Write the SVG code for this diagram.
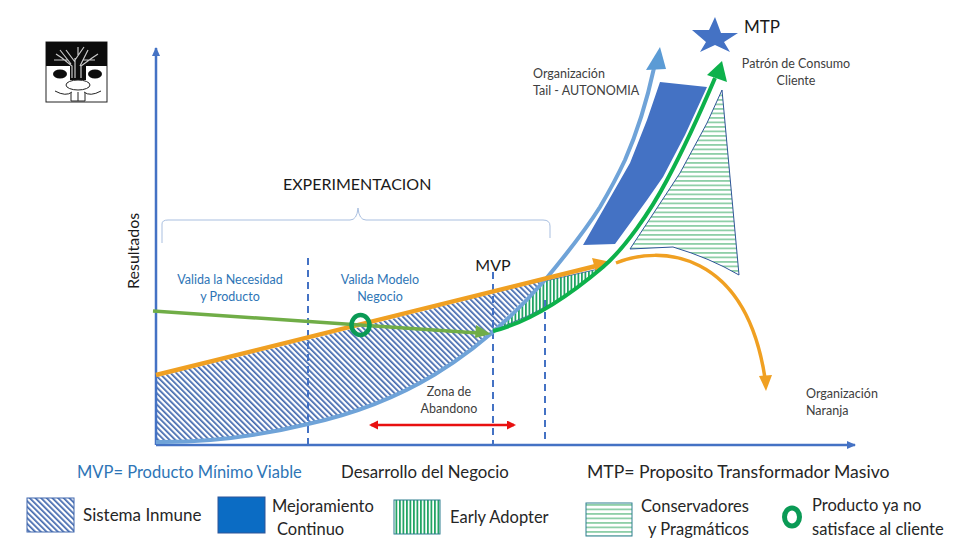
<svg xmlns="http://www.w3.org/2000/svg" width="975" height="548" viewBox="0 0 975 548">
<style>
text{font-family:Lato,"Open Sans","Liberation Sans",sans-serif;font-size:13px;fill:#404040}
.b{fill:#2e75b6}.k{fill:#1a1a1a}
.l{font-size:16.500px;fill:#262626}
.m{text-anchor:middle}
.dash{stroke:#4472c4;stroke-width:2;stroke-dasharray:7 5;fill:none}
</style>
<defs>
<pattern id="diag" width="4" height="4" patternUnits="userSpaceOnUse" patternTransform="rotate(-45)"><rect width="4" height="4" fill="#fff"/><rect width="1.700" height="4" fill="#3f66ad"/></pattern>
<pattern id="vert" width="3.500" height="4" patternUnits="userSpaceOnUse"><rect width="3.500" height="4" fill="#fff"/><rect width="1.800" height="4" fill="#21a464"/></pattern>
<pattern id="horz" width="4.500" height="4.500" patternUnits="userSpaceOnUse"><rect width="4.500" height="4.500" fill="#fff"/><rect width="4.500" height="1.800" fill="#8fcfa8"/></pattern>
<marker id="ax" markerWidth="10" markerHeight="10" refX="8" refY="4" orient="auto" markerUnits="userSpaceOnUse"><path d="M0 0L9 4L0 8z" fill="#4472c4"/></marker>
<marker id="red" markerWidth="11" markerHeight="10" refX="7" refY="4.500" orient="auto-start-reverse" markerUnits="userSpaceOnUse"><path d="M0 0L9 4.500L0 9z" fill="#e81010"/></marker>
</defs>

<g id="logo">
<rect x="46" y="42" width="61" height="60" fill="#fff" stroke="#222" stroke-width="1"/>
<path d="M46 42H107V66H86V80H70V66H46z" fill="#0c0c0c"/>
<path d="M75 78V58M72 78V66L62 58L56 54M81 78V66L92 58L98 54M75 62L66 50M75 60L84 47M80 66L88 50M71 64L60 50M78 56V47M83 60L95 60M68 60L54 60" stroke="#c9c9c9" stroke-width="1.200" fill="none"/>
<ellipse cx="60" cy="74" rx="7" ry="4.500" fill="#0c0c0c"/><ellipse cx="95" cy="74" rx="7" ry="4.500" fill="#0c0c0c"/>
<ellipse cx="78" cy="85" rx="12" ry="5" fill="#fff" stroke="#222"/>
<path d="M55 91Q66 97 72 92M101 91Q90 97 84 92M71 93V101H85V93M78 92V101" fill="none" stroke="#222"/>
</g>

<g id="zone-sistema-inmune"><path d="M156 377L360 327L545 280Q520 303 493 330Q420 400 308 424Q230 442 156 443z" fill="url(#diag)"/></g>
<g id="zone-early-adopter"><path d="M499 328Q524 304 545 281L603 268Q560 305 499 328z" fill="url(#vert)" stroke="#2f5597" stroke-width=".8"/></g>
<g id="zone-mejoramiento"><path d="M660 82L707 87L685 135L663 177L647 200L615 244L583 245L630 163L647 120z" fill="#4472c4"/></g>
<g id="zone-conservadores"><path d="M722 90L739 275Q710 258 673 247L630 249L680 173L707 123z" fill="url(#horz)" stroke="#2f5597" stroke-width="1"/></g>

<g id="connectors" fill="none">
<path d="M156 445V48" stroke="#4472c4" stroke-width="2.500" marker-end="url(#ax)"/>
<path d="M156 445H855" stroke="#4472c4" stroke-width="2.500" marker-end="url(#ax)"/>
<path d="M308 258V445M493 272V445M545 300V445" class="dash"/>
<path d="M162 243V224Q162 220 168 220H350Q357 220 358 208Q359 220 366 220H543Q550 220 550 226V238" stroke="#a9bfe0" stroke-width="1"/>
<path d="M156 442Q230 443 308 424C400 404 475 360 545 280C570 250 588 226 600 207C610 190 618 175 625 160C636 135 646 105 654 68" stroke="#6fa3d8" stroke-width="4"/>
<path d="M646 70L660 47L666 69z" fill="#5b9bd5"/>
<path d="M156 375L596 266" stroke="#f0a022" stroke-width="4.500"/>
<path d="M592 258L611 262L596 272z" fill="#f0a022"/>
<path d="M616 263C660 245 745 250 765 378" stroke="#f0a022" stroke-width="3.500"/>
<path d="M759 376L766 391L772 375z" fill="#f0a022"/>
<path d="M153 311L360 325L478 333" stroke="#70ad47" stroke-width="3.500"/>
<path d="M476 325L491 334L475 338z" fill="#70ad47"/>
<path d="M493 331C530 322 570 295 603 267C625 248 650 212 667 180C682 152 698 118 715 78" stroke="#0db14b" stroke-width="4"/>
<path d="M707 75L722 61L727 82z" fill="#0db14b"/>
<path d="M371 425H514" stroke="#e81010" stroke-width="2.500" marker-start="url(#red)" marker-end="url(#red)"/>
</g>

<g id="producto-ring"><ellipse cx="360.500" cy="325" rx="9" ry="10" fill="none" stroke="#0a9a55" stroke-width="4.500"/></g>
<g id="mtp"><path d="M715 17L721 33H738L724 42L730 52L715 45L700 52L706 42L692 30H709z" fill="#4472c4"/><text x="744" y="33" style="font-size:17px" class="k">MTP</text></g>

<g id="labels">
<text x="796" y="68" class="m" style="font-size:12.500px">Patrón de Consumo</text>
<text x="796" y="85" class="m" style="font-size:12.500px">Cliente</text>
<text x="533" y="78" style="font-size:12.500px">Organización</text>
<text x="533" y="95" style="font-size:12.500px">Tail - AUTONOMIA</text>
<text x="283" y="190" style="font-size:16px" class="k">EXPERIMENTACION</text>
<text transform="translate(139 289) rotate(-90)" style="font-size:16px" class="k">Resultados</text>
<text x="230" y="284" class="m b" style="font-size:12.500px">Valida la Necesidad</text>
<text x="230" y="301" class="m b" style="font-size:12.500px">y Producto</text>
<text x="380" y="284" class="m b" style="font-size:12.500px">Valida Modelo</text>
<text x="380" y="301" class="m b" style="font-size:12.500px">Negocio</text>
<text x="493" y="271" class="m k" style="font-size:16px">MVP</text>
<text x="449" y="396" class="m" style="font-size:12.500px">Zona de</text>
<text x="449" y="413" class="m" style="font-size:12.500px">Abandono</text>
<text x="806" y="398" style="font-size:12.500px">Organización</text>
<text x="806" y="415" style="font-size:12.500px">Naranja</text>
<text x="77" y="478" class="l b" style="fill:#2e75b6">MVP= Producto Mínimo Viable</text>
<text x="341" y="478" style="font-size:16.800px;fill:#262626">Desarrollo del Negocio</text>
<text x="587" y="478" style="font-size:17.600px;fill:#262626">MTP= Proposito Transformador Masivo</text>
</g>

<g id="legend">
<g id="legend-sistema"><rect x="27" y="498" width="47" height="34" fill="url(#diag)" stroke="#3f66ad"/><text x="83" y="521" style="font-size:17px;fill:#262626">Sistema Inmune</text></g>
<g id="legend-mejoramiento"><rect x="218" y="497" width="47" height="36" fill="#0b6cc4" stroke="#2f5597"/><text x="272" y="512" class="l">Mejoramiento</text><text x="277" y="535" class="l">Continuo</text></g>
<g id="legend-early"><rect x="394" y="500" width="46" height="34" fill="url(#vert)" stroke="#2f7f8f"/><text x="450" y="523" class="l">Early Adopter</text></g>
<g id="legend-conservadores"><rect x="586" y="503" width="46" height="33" fill="url(#horz)" stroke="#2f7f8f"/><text x="641" y="512" class="l">Conservadores</text><text x="648" y="535" class="l">y Pragmáticos</text></g>
<g id="legend-producto"><ellipse cx="792" cy="517" rx="7.500" ry="9" fill="none" stroke="#0a9a55" stroke-width="5"/><text x="812" y="511" class="l">Producto ya no</text><text x="812" y="535" class="l">satisface al cliente</text></g>
</g>
</svg>
